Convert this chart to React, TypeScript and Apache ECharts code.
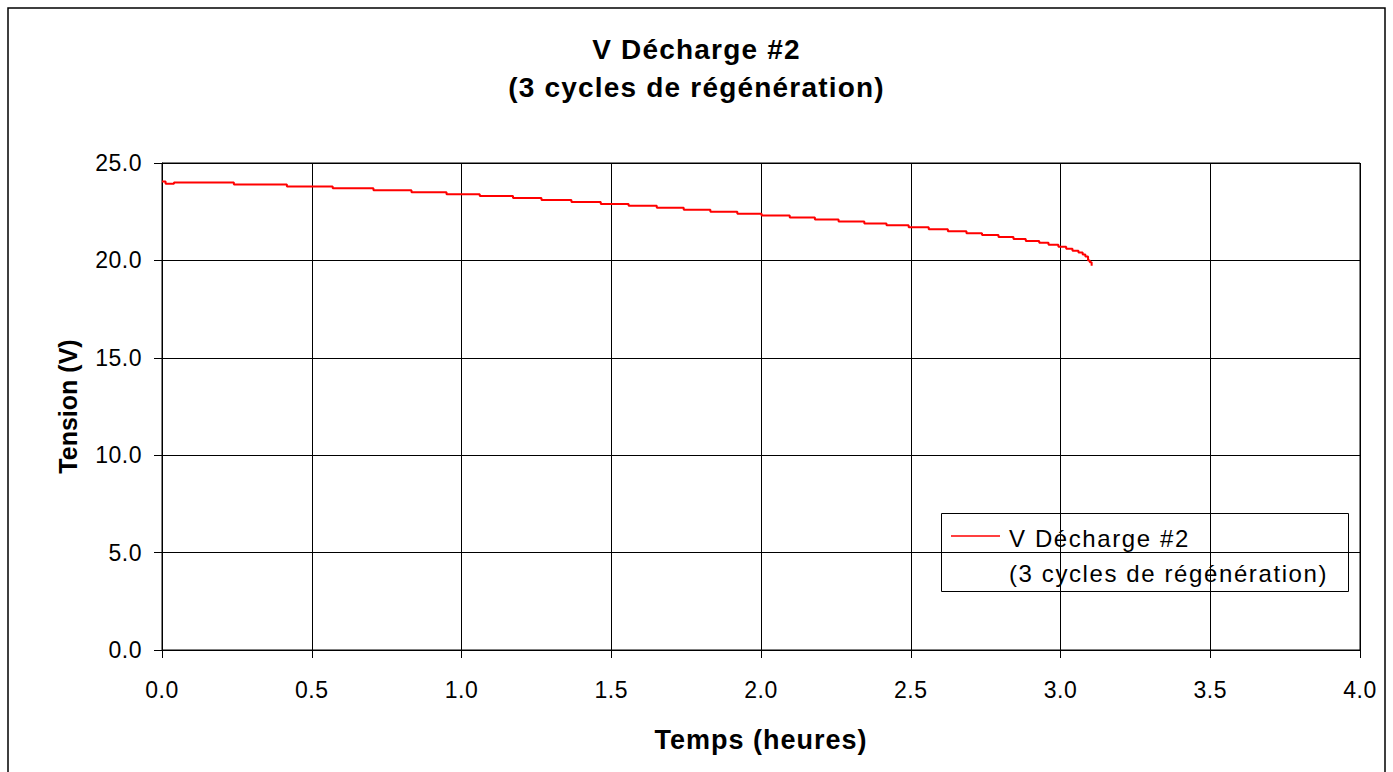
import React, { useEffect, useRef } from "react";
import * as echarts from "echarts";

const TITLE_LINES = ["V Décharge #2", "(3 cycles de régénération)"];
const X_NAME = "Temps (heures)";
const Y_NAME = "Tension (V)";
const SERIES_NAME = "V Décharge #2";
const LEGEND_LINES = ["V Décharge #2", "(3 cycles de régénération)"];

// time (hours) at which each voltage level starts
const times = [
  0, 0.012, 0.04, 0.24, 0.417, 0.57, 0.706, 0.833, 0.95, 1.061, 1.172, 1.267,
  1.367, 1.465, 1.558, 1.652, 1.742, 1.831, 1.921, 2.002, 2.096, 2.18, 2.259,
  2.345, 2.419, 2.493, 2.56, 2.624, 2.686, 2.738, 2.793, 2.843, 2.884, 2.929,
  2.96, 2.993, 3.019, 3.04, 3.06, 3.074, 3.083, 3.092, 3.098, 3.104,
];
// voltage (V)
const volts = [
  24.05, 23.93, 24.0, 23.9, 23.8, 23.7, 23.6, 23.5, 23.4, 23.3, 23.2, 23.1,
  23.0, 22.9, 22.8, 22.7, 22.6, 22.5, 22.4, 22.3, 22.2, 22.1, 22.0, 21.9, 21.8,
  21.7, 21.6, 21.5, 21.4, 21.3, 21.2, 21.1, 21.0, 20.9, 20.8, 20.7, 20.6, 20.5,
  20.4, 20.3, 20.2, 20.0, 19.9, 19.73,
];

const X_MIN = 0;
const X_MAX = 4;
const X_STEP = 0.5;
const Y_MIN = 0;
const Y_MAX = 25;
const Y_STEP = 5;

const FONT = '"Liberation Sans", Arial, Helvetica, sans-serif';

const SPACING_CSS = `
#chart-root text[style*="28px"] { letter-spacing: 1.2px; }
#chart-root text[style*="27px"] { letter-spacing: 1px; }
#chart-root text[style*="24px"] { letter-spacing: 1.6px; }
#chart-root text[style*="23px"] { letter-spacing: 0.5px; }
`;

export default function App() {
  const ref = useRef<HTMLDivElement>(null);

  useEffect(() => {
    if (!ref.current) return;
    const chart = echarts.init(ref.current, undefined, { renderer: "svg" });
    const data = times.map((t, i) => [t, volts[i]]);

    chart.setOption({
      animation: false,
      backgroundColor: "#ffffff",
      textStyle: { fontFamily: FONT, color: "#000" },
      title: {
        text: TITLE_LINES.join("\n"),
        left: "center",
        top: 25,
        textStyle: {
          fontFamily: FONT,
          fontSize: 28,
          fontWeight: "bold",
          color: "#000",
          lineHeight: 38,
        },
      },
      grid: {
        left: 162,
        top: 163,
        width: 1198,
        height: 487,
        show: true,
        borderColor: "#000",
        borderWidth: 1,
        backgroundColor: "transparent",
      },
      xAxis: {
        type: "value",
        min: X_MIN,
        max: X_MAX,
        interval: X_STEP,
        name: X_NAME,
        nameLocation: "middle",
        nameGap: 76,
        nameTextStyle: {
          fontFamily: FONT,
          fontSize: 27,
          fontWeight: "bold",
          color: "#000",
        },
        axisLine: { show: true, lineStyle: { color: "#000", width: 1 } },
        axisTick: { show: true, inside: false, length: 8, lineStyle: { color: "#000" } },
        axisLabel: {
          fontFamily: FONT,
          fontSize: 23,
          color: "#000",
          margin: 28,
          formatter: (v: number) => v.toFixed(1),
        },
        splitLine: { show: true, lineStyle: { color: "#000", width: 1 } },
      },
      yAxis: {
        type: "value",
        min: Y_MIN,
        max: Y_MAX,
        interval: Y_STEP,
        name: Y_NAME,
        nameLocation: "middle",
        nameGap: 82,
        nameTextStyle: {
          fontFamily: FONT,
          fontSize: 25,
          fontWeight: "bold",
          color: "#000",
        },
        axisLine: { show: true, lineStyle: { color: "#000", width: 1 } },
        axisTick: { show: true, inside: false, length: 8, lineStyle: { color: "#000" } },
        axisLabel: {
          fontFamily: FONT,
          fontSize: 23,
          color: "#000",
          margin: 20,
          formatter: (v: number) => v.toFixed(1),
        },
        splitLine: { show: true, lineStyle: { color: "#000", width: 1 } },
      },
      series: [
        {
          name: SERIES_NAME,
          type: "line",
          step: "end",
          data,
          showSymbol: false,
          symbol: "none",
          lineStyle: { color: "#ff0000", width: 2 },
          z: 5,
        },
      ],
      graphic: [
        {
          type: "rect",
          shape: { x: 8, y: 8, width: 1377, height: 820 },
          style: { fill: "none", stroke: "#000", lineWidth: 1.5 },
          silent: true,
          z: 0,
        },
        {
          type: "group",
          z: 100,
          children: [
            {
              type: "rect",
              shape: { x: 941.5, y: 513.5, width: 407, height: 78 },
              style: { fill: "#ffffff", stroke: "#000", lineWidth: 1 },
            },
            {
              type: "line",
              shape: { x1: 951, y1: 536, x2: 1000, y2: 536 },
              style: { stroke: "#ff0000", lineWidth: 1.5 },
            },
            {
              type: "text",
              x: 1009,
              y: 538,
              style: {
                text: LEGEND_LINES[0],
                fontFamily: FONT,
                fontSize: 24,
                fill: "#000",
                verticalAlign: "middle",
                align: "left",
              },
            },
            {
              type: "text",
              x: 1009,
              y: 573,
              style: {
                text: LEGEND_LINES[1],
                fontFamily: FONT,
                fontSize: 24,
                fill: "#000",
                verticalAlign: "middle",
                align: "left",
              },
            },
          ],
        },
      ],
    });

    return () => {
      chart.dispose();
    };
  }, []);

  return (
    <>
      <style>{SPACING_CSS}</style>
      <div
        id="chart-root"
        ref={ref}
        style={{
          position: "fixed",
          left: 0,
          top: 0,
          width: 1393,
          height: 772,
          background: "#fff",
        }}
      />
    </>
  );
}
